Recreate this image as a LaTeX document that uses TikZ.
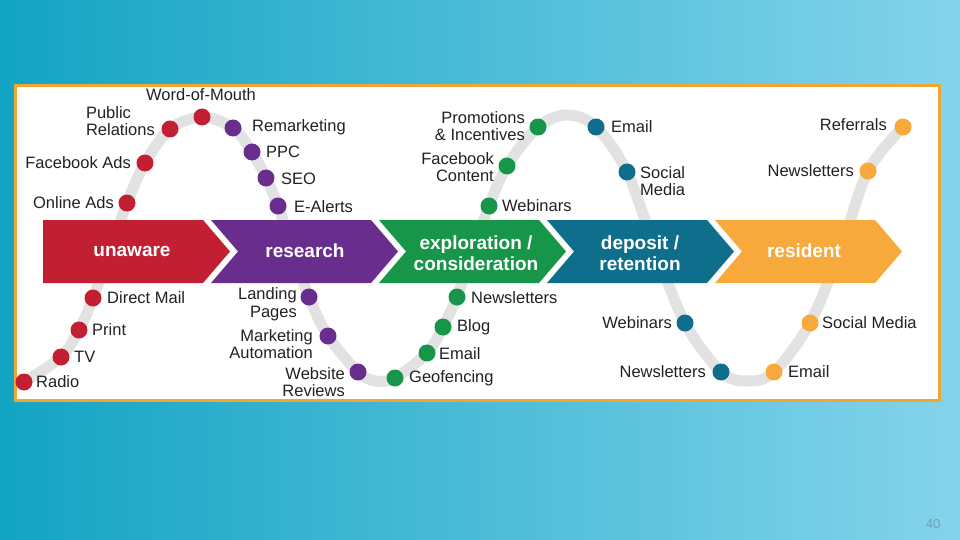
\documentclass[tikz,border=0pt]{standalone}
\usepackage{fontspec}
\setmainfont{Liberation Sans}
\definecolor{bgL}{HTML}{13A4C3}
\definecolor{bgR}{HTML}{84D4EB}
\definecolor{frameO}{HTML}{F0A535}
\definecolor{cRed}{HTML}{C21F32}
\definecolor{cPur}{HTML}{692D8D}
\definecolor{cGrn}{HTML}{179649}
\definecolor{cBlu}{HTML}{0F6E8C}
\definecolor{cOrg}{HTML}{F7A93B}
\definecolor{waveC}{HTML}{E2E2E2}
\definecolor{txt}{HTML}{222222}
\definecolor{pgnum}{HTML}{6E9FB3}
\tikzset{
  dot/.style={circle, inner sep=0pt, minimum size=17pt, fill=#1},
  lbl/.style={text=txt, font=\fontsize{16.5}{17.5}\selectfont, inner sep=0pt},
  stage/.style={text=white, font=\bfseries\fontsize{19}{21}\selectfont, align=center, inner sep=0pt},
  chev/.style={fill=#1, draw=none},
}
\begin{document}
\begin{tikzpicture}[x=1pt,y=-1pt]
\useasboundingbox (0,0) rectangle (960,540);
\shade[left color=bgL, right color=bgR] (0,0) rectangle (960,540);
\draw[frameO, line width=3pt, fill=white] (15.5,85.5) rectangle (939.5,400.5);

% dot coordinates
\coordinate (r1) at (24,382);
\coordinate (r2) at (61,357);
\coordinate (r3) at (79,330);
\coordinate (r4) at (93,298);
\coordinate (w1) at (110,251);
\coordinate (r5) at (127,203);
\coordinate (r6) at (145,163);
\coordinate (r7) at (170,129);
\coordinate (r8) at (202,117);
\coordinate (u1) at (233,128);
\coordinate (u2) at (252,152);
\coordinate (u3) at (266,178);
\coordinate (u4) at (278,206);
\coordinate (w2) at (293,251);
\coordinate (u5) at (309,297);
\coordinate (u6) at (328,336);
\coordinate (u7) at (358,372);
\coordinate (w3) at (376,381);
\coordinate (g1) at (395,378);
\coordinate (g2) at (427,353);
\coordinate (g3) at (443,327);
\coordinate (g4) at (457,297);
\coordinate (w4) at (473,251);
\coordinate (g5) at (489,206);
\coordinate (g6) at (507,166);
\coordinate (g7) at (538,127);
\coordinate (w5) at (567,115);
\coordinate (b1) at (596,127);
\coordinate (b2) at (627,172);
\coordinate (w6) at (656,251);
\coordinate (b3) at (685,323);
\coordinate (b4) at (721,372);
\coordinate (w7) at (748,381);
\coordinate (o1) at (774,372);
\coordinate (o2) at (810,323);
\coordinate (w8) at (840,251);
\coordinate (o3) at (868,171);
\coordinate (o4) at (903,127);

% gray wave
\draw[waveC, line width=11pt, line cap=round] plot[smooth, tension=0.55] coordinates {
 (r1) (r2) (r3) (r4) (w1) (r5) (r6) (r7) (r8) (u1) (u2) (u3) (u4) (w2) (u5) (u6) (u7) (w3)
 (g1) (g2) (g3) (g4) (w4) (g5) (g6) (g7) (w5) (b1) (b2) (w6) (b3) (b4) (w7) (o1) (o2) (w8) (o3) (o4)};

% chevrons
\fill[chev=cRed] (43,220) -- (203,220) -- (230,251.5) -- (203,283) -- (43,283) -- cycle;
\fill[chev=cPur] (211,220) -- (371,220) -- (398,251.5) -- (371,283) -- (211,283) -- (238,251.5) -- cycle;
\fill[chev=cGrn] (379,220) -- (539,220) -- (566,251.5) -- (539,283) -- (379,283) -- (406,251.5) -- cycle;
\fill[chev=cBlu] (547,220) -- (707,220) -- (734,251.5) -- (707,283) -- (547,283) -- (574,251.5) -- cycle;
\fill[chev=cOrg] (715,220) -- (875,220) -- (902,251.5) -- (875,283) -- (715,283) -- (742,251.5) -- cycle;
\node[stage] (sUn) at (132,251) {unaware};
\node[stage] (sRe) at (305,251) {research};
\node[stage] (sEx) at (476,253) {exploration /\\consideration};
\node[stage] (sDe) at (640,253) {deposit /\\retention};
\node[stage] (sRs) at (804,251) {resident};

% dots
\foreach \n in {r1,r2,r3,r4,r5,r6,r7,r8} \node[dot=cRed] (d\n) at (\n) {};
\foreach \n in {u1,u2,u3,u4,u5,u6,u7} \node[dot=cPur] (d\n) at (\n) {};
\foreach \n in {g1,g2,g3,g4,g5,g6,g7} \node[dot=cGrn] (d\n) at (\n) {};
\foreach \n in {b1,b2,b3,b4} \node[dot=cBlu] (d\n) at (\n) {};
\foreach \n in {o1,o2,o3,o4} \node[dot=cOrg] (d\n) at (\n) {};

% red labels
\node[lbl] (tWoM) at (201,95) {Word-of-Mouth};
\node[lbl, anchor=east, align=left] (tPR) at (155,121) {Public\\Relations};
\node[lbl, anchor=east] (tFB) at (131,163) {Facebook Ads};
\node[lbl, anchor=east] (tOA) at (114,203) {Online Ads};
\node[lbl, anchor=west] (tDM) at (107,298) {Direct Mail};
\node[lbl, anchor=west] (tPr) at (92,330) {Print};
\node[lbl, anchor=west] (tTV) at (74,357) {TV};
\node[lbl, anchor=west] (tRa) at (36,382) {Radio};
% purple labels
\node[lbl, anchor=west] (tRm) at (252,127) {Remarketing};
\node[lbl, anchor=west] (tPPC) at (266,152) {PPC};
\node[lbl, anchor=west] (tSEO) at (281,179) {SEO};
\node[lbl, anchor=west] (tEA) at (294,207) {E-Alerts};
\node[lbl, anchor=east, align=right] (tLP) at (297,304) {Landing\\Pages};
\node[lbl, anchor=east, align=right] (tMA) at (313,344) {Marketing\\Automation};
\node[lbl, anchor=east, align=right] (tWR) at (345,382) {Website\\Reviews};
% green labels
\node[lbl, anchor=west] (tGeo) at (409,378) {Geofencing};
\node[lbl, anchor=west] (tGEm) at (439,354) {Email};
\node[lbl, anchor=west] (tBlog) at (457,327) {Blog};
\node[lbl, anchor=west] (tGNl) at (471,298) {Newsletters};
\node[lbl, anchor=west] (tGWe) at (502,206) {Webinars};
\node[lbl, anchor=east, align=right] (tFC) at (494,167) {Facebook\\Content};
\node[lbl, anchor=east, align=right] (tPI) at (525,126) {Promotions\\\& Incentives};
% blue labels
\node[lbl, anchor=west] (tBEm) at (611,127) {Email};
\node[lbl, anchor=west, align=left] (tBSM) at (640,181) {Social\\Media};
\node[lbl, anchor=east] (tBWe) at (672,323) {Webinars};
\node[lbl, anchor=east] (tBNl) at (706,372) {Newsletters};
% orange labels
\node[lbl, anchor=west] (tOEm) at (788,372) {Email};
\node[lbl, anchor=west] (tOSM) at (822,323) {Social Media};
\node[lbl, anchor=east] (tONl) at (854,171) {Newsletters};
\node[lbl, anchor=east] (tORf) at (887,125) {Referrals};

% page number
\node[text=pgnum, font=\fontsize{13}{13}\selectfont] (pg) at (933,524) {40};
\end{tikzpicture}
\end{document}
